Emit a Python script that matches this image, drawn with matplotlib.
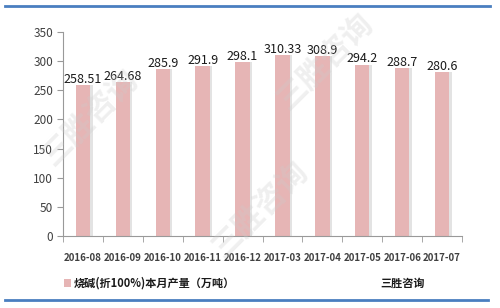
import numpy as np
import matplotlib
matplotlib.use("Agg")
import matplotlib.pyplot as plt
from matplotlib.patches import Rectangle
from matplotlib.lines import Line2D

plt.rcParams['font.family'] = ['Noto Sans CJK SC', 'DejaVu Sans']

months = ["2016-08", "2016-09", "2016-10", "2016-11", "2016-12",
          "2017-03", "2017-04", "2017-05", "2017-06", "2017-07"]
output = [258.51, 264.68, 285.9, 291.9, 298.1, 310.33, 308.9, 294.2, 288.7, 280.6]
labels = ["258.51", "264.68", "285.9", "291.9", "298.1",
          "310.33", "308.9", "294.2", "288.7", "280.6"]
y_ticks = [0, 50, 100, 150, 200, 250, 300, 350]
series_name = "烧碱(折100%)本月产量（万吨）"
brand = "三胜咨询"

bar_color = "#E6B5B5"
shadow_color = "#E3E3E3"
text_color = "#404040"
blue = "#4A7EC0"

fig = plt.figure(figsize=(5.0, 3.08), dpi=100, facecolor="white")
ax = fig.add_axes([0.126, 0.234, 0.798, 0.662])

x = np.arange(len(months))
# light shadow on the right of each bar
ax.bar(x + 0.06, output, width=0.36, color=shadow_color, zorder=1)
ax.bar(x, output, width=0.36, color=bar_color, zorder=2)

for xi, v, lab in zip(x, output, labels):
    ax.annotate(lab, xy=(xi, v), xytext=(0, 4), textcoords="offset points",
                ha="center", va="center", fontsize=9, color="#1a1a1a", zorder=4)

ax.set_xlim(-0.5, len(months) - 0.5)
ax.set_ylim(0, 350)
ax.set_yticks(y_ticks)
ax.set_yticklabels([str(t) for t in y_ticks], fontsize=8.5, color=text_color)
ax.set_xticks(x)
ax.set_xticklabels(months, fontsize=7, color=text_color, fontweight="bold")
ax.tick_params(axis="x", length=0, pad=12)
ax.set_xticks(np.arange(-0.5, len(months)), minor=True)
ax.tick_params(axis="x", which="minor", length=4, color="#999999", direction="out")
ax.tick_params(axis="y", length=4, color="#999999", direction="out", pad=3)

for s in ["top", "right"]:
    ax.spines[s].set_visible(False)
for s in ["left", "bottom"]:
    ax.spines[s].set_color("#999999")
    ax.spines[s].set_linewidth(0.8)

# faint watermark
for wx, wy in [(0.18, 0.62), (0.52, 0.32), (0.65, 0.80)]:
    fig.text(wx, wy, brand, rotation=45, fontsize=22, color="#cccccc",
             alpha=0.3, ha="center", va="center", fontweight="bold", zorder=0)

# legend and brand
fig.patches.append(Rectangle((0.128, 0.067), 0.014, 0.028, transform=fig.transFigure,
                             facecolor=bar_color, edgecolor="none"))
fig.text(0.148, 0.081, series_name, fontsize=8, color="#1a1a1a",
         ha="left", va="center", fontweight="bold")
fig.text(0.806, 0.081, brand, fontsize=8, color="#1a1a1a",
         ha="center", va="center", fontweight="bold")

# top and bottom rules
fig.add_artist(Line2D([0.01, 0.98], [0.98, 0.98], transform=fig.transFigure,
                      color=blue, linewidth=2))
fig.add_artist(Line2D([0.01, 0.975], [0.027, 0.027], transform=fig.transFigure,
                      color=blue, linewidth=2))

fig.savefig("out.png", dpi=100, facecolor="white")
